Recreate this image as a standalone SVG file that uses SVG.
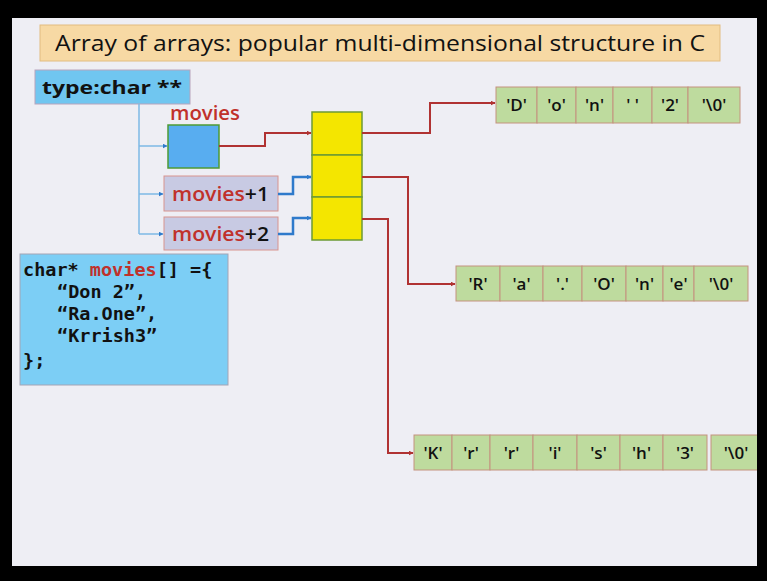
<svg xmlns="http://www.w3.org/2000/svg" width="767" height="581" viewBox="0 0 767 581">
<defs>
<marker id="ar" viewBox="0 0 10 10" refX="9" refY="5" markerWidth="5" markerHeight="5" orient="auto" markerUnits="userSpaceOnUse"><path d="M0,0 L10,5 L0,10 z" fill="#B03232"/></marker>
<marker id="ab" viewBox="0 0 10 10" refX="9" refY="5" markerWidth="5" markerHeight="5" orient="auto" markerUnits="userSpaceOnUse"><path d="M0,0 L10,5 L0,10 z" fill="#2E7ACB"/></marker>
<style>
.cell{fill:#BEDB9E;stroke:#C4927E;stroke-width:1}
.ct{font-family:"Open Sans","DejaVu Sans",sans-serif;font-weight:600;font-size:17px;fill:#111;text-anchor:middle}
.red{stroke:#B03232;stroke-width:2;fill:none}
.blue{stroke:#2E7ACB;stroke-width:2.5;fill:none}
.thin{stroke:#7DB8E6;stroke-width:1.5;fill:none}
.lbl{font-family:"Open Sans","DejaVu Sans",sans-serif;font-weight:600;font-size:20px}
.code{font-family:"DejaVu Sans Mono","Liberation Mono",monospace;font-weight:bold;font-size:18.5px;fill:#111}
</style>
</defs>
<rect x="0" y="0" width="767" height="581" fill="#000"/>
<rect x="12" y="18" width="745" height="548" fill="#EEEEF4"/>

<g id="title">
<rect x="40" y="25" width="680" height="36" fill="#F7D9A4" stroke="#E2BC80" stroke-width="1"/>
<text x="55" y="51" font-family="'Open Sans','DejaVu Sans',sans-serif" font-size="21" fill="#111" textLength="650" lengthAdjust="spacingAndGlyphs">Array of arrays: popular multi-dimensional structure in C</text>
</g>

<g id="type-box">
<rect x="35" y="70" width="155" height="34" fill="#70C6F0" stroke="#B8A4BC" stroke-width="1"/>
<text x="42" y="94" font-family="'Open Sans','DejaVu Sans',sans-serif" font-weight="bold" font-size="18" fill="#111" textLength="140" lengthAdjust="spacingAndGlyphs">type:char **</text>
</g>

<g id="movies">
<text x="170" y="120" class="lbl" fill="#C0312B" textLength="70" lengthAdjust="spacingAndGlyphs">movies</text>
<rect x="168" y="125" width="51" height="43" fill="#58ADF0" stroke="#4E9A34" stroke-width="1.5"/>
</g>

<g id="movies-plus-1">
<rect x="164" y="176" width="114" height="35" fill="#C8CAE3" stroke="#D8948E" stroke-width="1"/>
<text x="172" y="201" class="lbl" textLength="97" lengthAdjust="spacingAndGlyphs"><tspan fill="#C0312B">movies</tspan><tspan fill="#111">+1</tspan></text>
</g>

<g id="movies-plus-2">
<rect x="164" y="217" width="114" height="33" fill="#C8CAE3" stroke="#D8948E" stroke-width="1"/>
<text x="172" y="241" class="lbl" textLength="97" lengthAdjust="spacingAndGlyphs"><tspan fill="#C0312B">movies</tspan><tspan fill="#111">+2</tspan></text>
</g>

<g id="pointer-array">
<rect x="312" y="112" width="50" height="43" fill="#F4E600" stroke="#6C9A34" stroke-width="1.5"/>
<rect x="312" y="155" width="50" height="42" fill="#F4E600" stroke="#6C9A34" stroke-width="1.5"/>
<rect x="312" y="197" width="50" height="43" fill="#F4E600" stroke="#6C9A34" stroke-width="1.5"/>
</g>

<g id="code-box">
<rect x="20" y="254" width="208" height="131" fill="#7CCEF5" stroke="#A4A4B4" stroke-width="1"/>
<text class="code" x="23" y="276">char* <tspan fill="#C0312B">movies</tspan>[] ={</text>
<text class="code" x="57" y="298">“Don 2”,</text>
<text class="code" x="57" y="320">“Ra.One”,</text>
<text class="code" x="57" y="342">“Krrish3”</text>
<text class="code" x="23" y="367">};</text>
</g>

<g id="row-don2">
<rect class="cell" x="496" y="87" width="41" height="36"/>
<rect class="cell" x="537" y="87" width="39" height="36"/>
<rect class="cell" x="576" y="87" width="37" height="36"/>
<rect class="cell" x="613" y="87" width="39" height="36"/>
<rect class="cell" x="652" y="87" width="36" height="36"/>
<rect class="cell" x="688" y="87" width="52" height="36"/>
<text class="ct" x="516.5" y="111">'D'</text>
<text class="ct" x="556.5" y="111">'o'</text>
<text class="ct" x="594.5" y="111">'n'</text>
<text class="ct" x="632.5" y="111">' '</text>
<text class="ct" x="670" y="111">'2'</text>
<text class="ct" x="714" y="111">'\0'</text>
</g>

<g id="row-raone">
<rect class="cell" x="456" y="266" width="44" height="35"/>
<rect class="cell" x="500" y="266" width="43" height="35"/>
<rect class="cell" x="543" y="266" width="39" height="35"/>
<rect class="cell" x="582" y="266" width="44" height="35"/>
<rect class="cell" x="626" y="266" width="37" height="35"/>
<rect class="cell" x="663" y="266" width="31" height="35"/>
<rect class="cell" x="694" y="266" width="54" height="35"/>
<text class="ct" x="478" y="290">'R'</text>
<text class="ct" x="521.5" y="290">'a'</text>
<text class="ct" x="562.5" y="290">'.'</text>
<text class="ct" x="604" y="290">'O'</text>
<text class="ct" x="644.5" y="290">'n'</text>
<text class="ct" x="678.5" y="290">'e'</text>
<text class="ct" x="721" y="290">'\0'</text>
</g>

<g id="row-krrish3">
<rect class="cell" x="414" y="435" width="38" height="35"/>
<rect class="cell" x="452" y="435" width="38" height="35"/>
<rect class="cell" x="490" y="435" width="43" height="35"/>
<rect class="cell" x="533" y="435" width="44" height="35"/>
<rect class="cell" x="577" y="435" width="43" height="35"/>
<rect class="cell" x="620" y="435" width="43" height="35"/>
<rect class="cell" x="663" y="435" width="44" height="35"/>
<rect class="cell" x="711" y="435" width="50" height="35"/>
<text class="ct" x="433" y="459">'K'</text>
<text class="ct" x="471" y="459">'r'</text>
<text class="ct" x="511.5" y="459">'r'</text>
<text class="ct" x="555" y="459">'i'</text>
<text class="ct" x="598.5" y="459">'s'</text>
<text class="ct" x="641.5" y="459">'h'</text>
<text class="ct" x="685" y="459">'3'</text>
<text class="ct" x="736" y="459">'\0'</text>
</g>

<g id="connectors">
<path class="thin" d="M139,104 V234"/>
<path class="thin" d="M139,146 H167" marker-end="url(#ab)"/>
<path class="thin" d="M139,194 H163" marker-end="url(#ab)"/>
<path class="thin" d="M139,234 H163" marker-end="url(#ab)"/>
<path class="red" d="M219,146 H265 V133 H311" marker-end="url(#ar)"/>
<path class="blue" d="M278,194 H293 V177 H311" marker-end="url(#ab)"/>
<path class="blue" d="M278,234 H293 V218 H311" marker-end="url(#ab)"/>
<path class="red" d="M362,133 H430 V103 H495" marker-end="url(#ar)"/>
<path class="red" d="M362,177 H408 V284 H455" marker-end="url(#ar)"/>
<path class="red" d="M362,219 H388 V453 H413" marker-end="url(#ar)"/>
</g>
<rect x="757" y="0" width="10" height="581" fill="#000"/>
</svg>
